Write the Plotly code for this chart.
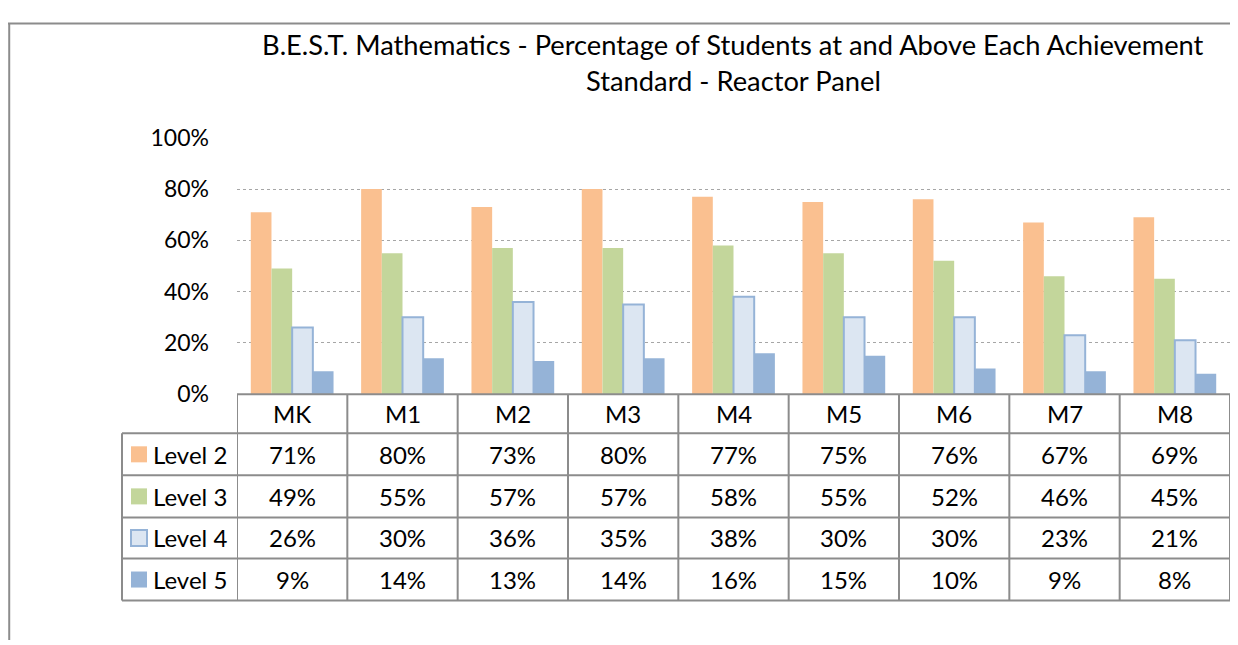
import plotly.graph_objects as go

# the page puts the figure at about (8, 22) and the photo squeezes the height a little
OFF_X, OFF_Y = 8, 24.5
SQ = 0.955
W, H = 1238 - 2 * OFF_X, 645

grades = ["MK", "M1", "M2", "M3", "M4", "M5", "M6", "M7", "M8"]
series_names = ["Level 2", "Level 3", "Level 4", "Level 5"]
level2 = [0.71, 0.80, 0.73, 0.80, 0.77, 0.75, 0.76, 0.67, 0.69]
level3 = [0.49, 0.55, 0.57, 0.57, 0.58, 0.55, 0.52, 0.46, 0.45]
level4 = [0.26, 0.30, 0.36, 0.35, 0.38, 0.30, 0.30, 0.23, 0.21]
level5 = [0.09, 0.14, 0.13, 0.14, 0.16, 0.15, 0.10, 0.09, 0.08]
y_ticks = [0, 0.2, 0.4, 0.6, 0.8, 1.0]

title_lines = [
    "B.E.S.T. Mathematics - Percentage of Students at and Above Each Achievement",
    "Standard - Reactor Panel",
]

fills = ["#FAC090", "#C3D69B", "#DCE6F2", "#95B3D7"]
outlines = ["#FAC090", "#C3D69B", "#95B3D7", "#95B3D7"]
outline_w = [0, 0, 2, 0]

FONT = "Lato, Carlito, Calibri, sans-serif"
GRID = "#8C8C8C"


# photo pixel -> paper coordinates
def px(x):
    return min(1.0, max(0.0, (x - OFF_X) / W))


def py(y):
    return min(1.0, max(0.0, 1 - (y / SQ - OFF_Y) / H))


PLOT_L, PLOT_R = 237, 1230
PLOT_T, PLOT_B = 138, 394
TAB_L = 122
row_edges = [394, 433, 475, 517, 558, 600]

fig = go.Figure()
all_vals = [level2, level3, level4, level5]
for i, name in enumerate(series_names):
    fig.add_trace(go.Bar(
        x=grades,
        y=all_vals[i],
        name=name,
        marker=dict(color=fills[i], line=dict(color=outlines[i], width=outline_w[i])),
        showlegend=False,
    ))

shapes = []
annotations = []

# outer frame (left and top edges)
shapes.append(dict(type="line", xref="paper", yref="paper", x0=0.001, x1=0.001, y0=1, y1=0,
                   line=dict(color="#8C8C8C", width=2)))
shapes.append(dict(type="line", xref="paper", yref="paper", x0=0, x1=1, y0=0.999, y1=0.999,
                   line=dict(color="#8C8C8C", width=2)))

# table horizontal lines
shapes.append(dict(type="line", xref="paper", yref="paper", x0=px(PLOT_L), x1=px(PLOT_R),
                   y0=py(row_edges[0]), y1=py(row_edges[0]), line=dict(color=GRID, width=2)))
for ry in row_edges[1:]:
    shapes.append(dict(type="line", xref="paper", yref="paper", x0=px(TAB_L), x1=px(PLOT_R),
                       y0=py(ry), y1=py(ry), line=dict(color=GRID, width=2)))
# table vertical lines on the category boundaries
for k in range(len(grades) + 1):
    shapes.append(dict(type="line", xref="x", yref="paper", x0=k - 0.5, x1=k - 0.5,
                       y0=py(row_edges[0]), y1=py(row_edges[-1]), line=dict(color=GRID, width=2)))
shapes.append(dict(type="line", xref="paper", yref="paper", x0=px(TAB_L), x1=px(TAB_L),
                   y0=py(row_edges[1]), y1=py(row_edges[-1]), line=dict(color=GRID, width=2)))

cell_font = dict(size=24, color="black", family=FONT)

# header row: grade names
for g in grades:
    annotations.append(dict(x=g, xref="x", y=py((row_edges[0] + row_edges[1]) / 2), yref="paper",
                            xanchor="center", yanchor="middle",
                            text=g, showarrow=False, font=cell_font))

# value rows with legend keys
for i, name in enumerate(series_names):
    top, bot = row_edges[i + 1], row_edges[i + 2]
    cy = (top + bot) / 2
    shapes.append(dict(type="rect", xref="paper", yref="paper", x0=px(131), x1=px(147),
                       y0=py(cy - 8), y1=py(cy + 8), fillcolor=fills[i],
                       line=dict(color=outlines[i], width=outline_w[i])))
    annotations.append(dict(x=px(151), xref="paper", y=py(cy), yref="paper",
                            xanchor="left", yanchor="middle",
                            text=name, showarrow=False, font=cell_font))
    for g, v in zip(grades, all_vals[i]):
        annotations.append(dict(x=g, xref="x", y=py(cy), yref="paper",
                                xanchor="center", yanchor="middle",
                                text=f"{round(v * 100)}%", showarrow=False, font=cell_font))

# two-line title
for line, ty in zip(title_lines, [45, 81]):
    annotations.append(dict(x=px(733), xref="paper", y=py(ty), yref="paper",
                            xanchor="center", yanchor="middle", text=line,
                            showarrow=False, font=dict(size=27.3, color="black", family=FONT)))

fig.update_layout(
    width=W, height=H,
    margin=dict(l=0, r=0, t=0, b=0),
    paper_bgcolor="white", plot_bgcolor="white",
    barmode="group", bargap=0.25, bargroupgap=0,
    shapes=shapes, annotations=annotations,
    font=dict(family=FONT, color="black"),
    xaxis=dict(domain=[px(PLOT_L), px(PLOT_R)], range=[-0.5, len(grades) - 0.5],
               showticklabels=False, showgrid=False, zeroline=False, showline=False),
    yaxis=dict(domain=[py(PLOT_B), py(PLOT_T)], range=[0, 1], tickvals=y_ticks,
               tickformat=".0%", showgrid=True, gridcolor="#A6A6A6", griddash="dot",
               gridwidth=1, zeroline=False, showline=False, ticks="",
               ticklabelstandoff=27, tickfont=dict(size=23, color="black", family=FONT)),
)

fig.write_html("out.html")
